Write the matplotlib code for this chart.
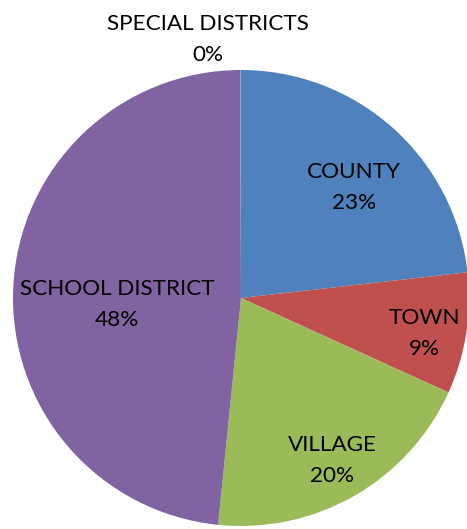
import matplotlib.pyplot as plt

# data
categories = ['COUNTY', 'TOWN', 'VILLAGE', 'SCHOOL DISTRICT', 'SPECIAL DISTRICTS']
shares = [23.2, 8.6, 19.8, 48.35, 0.05]
colors = ['#4F81BD', '#C0504D', '#9BBB59', '#8064A2', '#4BACC6']

# label centres in pie-radius units (Excel "best fit" placement)
label_x = [0.496, 0.803, 0.399, -0.544, -0.145]
label_y = [0.485, -0.155, -0.712, -0.030, 1.135]

plt.rcParams['font.family'] = ['Lato', 'DejaVu Sans']

fig = plt.figure(figsize=(4.67, 5.29), dpi=100)
ax = fig.add_axes([0, 0, 1, 1])

ax.pie(shares, colors=colors, startangle=90, counterclock=False,
       radius=1.0, wedgeprops=dict(linewidth=0))

for name, val, x, y in zip(categories, shares, label_x, label_y):
    ax.text(x, y, f'{name}\n{round(val)}%', ha='center', va='center',
            fontsize=16.2, linespacing=1.67, color='black')

# centre at (241, 298) px, radius 228 px
ax.set_xlim(-241 / 228, (467 - 241) / 228)
ax.set_ylim(-(529 - 298) / 228, 298 / 228)
ax.set_aspect('auto')
ax.axis('off')

fig.savefig('out.png', dpi=100)
